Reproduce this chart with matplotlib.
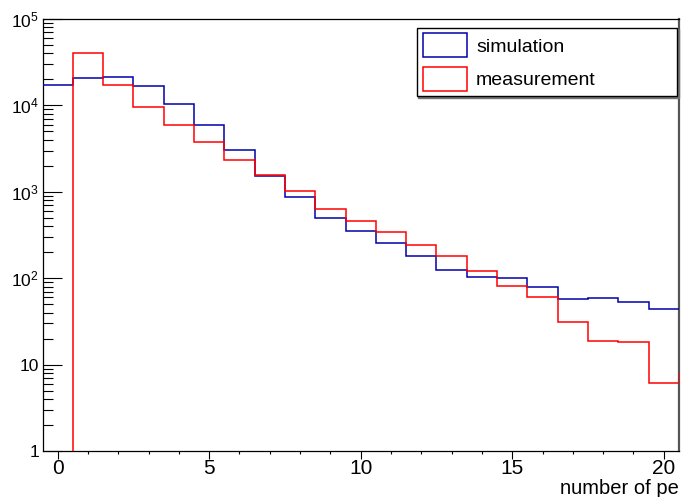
import numpy as np
import matplotlib
matplotlib.use('Agg')
import matplotlib.pyplot as plt
from matplotlib.patches import Patch
from matplotlib.ticker import LogLocator, FixedLocator, MultipleLocator, NullFormatter

plt.rcParams['font.family'] = ['Liberation Sans', 'DejaVu Sans']
plt.rcParams['mathtext.default'] = 'regular'

# bin edges: unit-width bins centred on 0..21 (last one lies past the axis range)
edges = np.arange(-0.5, 22.0, 1.0)
simulation = [17200, 20900, 21500, 16600, 10500, 6000, 3070, 1530, 863, 497, 355,
              257, 182, 125, 104, 100, 79, 57, 59.5, 53, 44, 44]
measurement = [0.5, 40000, 17200, 9660, 5880, 3740, 2350, 1580, 1030, 631, 459,
               343, 240, 179, 121, 82, 61, 31, 18.9, 18.1, 6.1, 8]
y_ticks = [1, 10, 100, 1000, 10000, 100000]
y_labels = ['1', '10', '$10^{2}$', '$10^{3}$', '$10^{4}$', '$10^{5}$']

fig = plt.figure(figsize=(6.88, 4.97), dpi=100)
ax = fig.add_axes([0.0618, 0.0926, 0.925, 0.8692])

ax.stairs(simulation, edges, baseline=None, color='#0000aa', lw=1.1, zorder=3,
          label='simulation')
ax.stairs(measurement, edges, baseline=None, color='#ff0000', lw=1.1, zorder=3,
          label='measurement')

ax.set_yscale('log')
ax.set_xlim(-0.5, 20.5)
ax.set_ylim(1, 1e5)

ax.yaxis.set_major_locator(FixedLocator(y_ticks))
ax.set_yticklabels(y_labels)
ax.yaxis.set_minor_locator(LogLocator(base=10, subs=np.arange(2, 10)))
ax.yaxis.set_minor_formatter(NullFormatter())
ax.tick_params(axis='y', which='major', direction='in', length=13.5, width=0.8,
               labelsize=12.5, pad=2.5)
ax.tick_params(axis='y', which='minor', direction='in', length=7, width=0.8)

ax.xaxis.set_major_locator(MultipleLocator(5))
ax.xaxis.set_minor_locator(MultipleLocator(1))
ax.tick_params(axis='x', which='major', direction='out', length=5.5, width=0.8,
               labelsize=15, pad=0)
ax.tick_params(axis='x', which='minor', direction='out', length=2.2, width=0.8)

ax.set_xlabel('number of pe', fontsize=14.5)
ax.xaxis.set_label_coords(1.0, -0.064)
ax.xaxis.label.set_horizontalalignment('right')

for side in ['left', 'bottom', 'top']:
    ax.spines[side].set_linewidth(0.9)
ax.spines['right'].set_color('#555555')
ax.spines['right'].set_linewidth(1.6)

handles = [Patch(facecolor='none', edgecolor='#0000aa', lw=1.1, label='simulation'),
           Patch(facecolor='none', edgecolor='#ff0000', lw=1.1, label='measurement')]
ax.legend(handles=handles, loc='upper left', bbox_to_anchor=(0.588, 0.980, 0.409, 0.0),
          mode='expand', borderaxespad=0, fontsize=14, handlelength=2.3, handleheight=1.5,
          labelspacing=0.5, borderpad=0.3, handletextpad=0.45, fancybox=False,
          framealpha=1, edgecolor='black',
          shadow={'ox': 1.2, 'oy': -1.2, 'color': '0.45', 'alpha': 1})

fig.savefig('out.png', dpi=100)
